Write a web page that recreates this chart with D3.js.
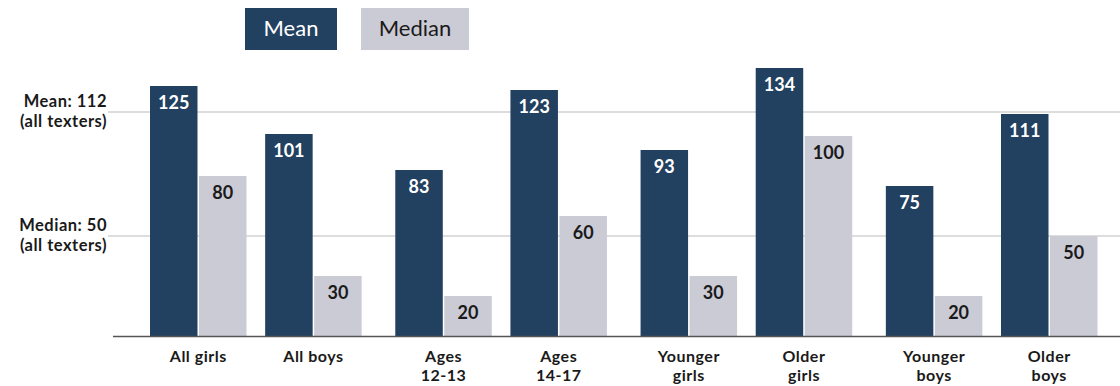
<!DOCTYPE html>
<html>
<head>
<meta charset="utf-8">
<script src="https://cdn.jsdelivr.net/npm/d3@7"></script>
<style>
  html, body { margin: 0; padding: 0; background: #fff; }
  svg { display: block; font-family: Lato, "Open Sans", sans-serif; }
</style>
</head>
<body>
<svg id="chart" width="1120" height="386"></svg>
<script>
// ---- data ----
const categories = ["All girls", "All boys", "Ages 12-13", "Ages 14-17",
                    "Younger girls", "Older girls", "Younger boys", "Older boys"];
const categoryLines = [["All girls"], ["All boys"], ["Ages", "12-13"], ["Ages", "14-17"],
                       ["Younger", "girls"], ["Older", "girls"], ["Younger", "boys"], ["Older", "boys"]];
const meanValues   = [125, 101, 83, 123, 93, 134, 75, 111];
const medianValues = [80, 30, 20, 60, 30, 100, 20, 50];
const seriesNames  = ["Mean", "Median"];
const refValues    = [112, 50];
const refLabels    = [["Mean: 112", "(all texters)"], ["Median: 50", "(all texters)"]];

// ---- layout ----
const colors = { Mean: "#22405f", Median: "#cbcbd6" };
const textColors = { Mean: "#ffffff", Median: "#1a1a1a" };
const svg = d3.select("#chart");

const y = d3.scaleLinear().domain([0, 168]).range([336, 0]);
// groups come in pairs with a slightly wider gap between pairs
const slot = i => i + Math.floor(i / 2) * 0.13;
const x = d3.scaleLinear().domain([0, slot(7)]).range([150, 1001]);
const barW = 47.5, innerGap = 1.5;

// reference lines
svg.selectAll("line.ref").data(refValues).join("line")
  .attr("class", "ref")
  .attr("x1", 108).attr("x2", 1120)
  .attr("y1", d => y(d)).attr("y2", d => y(d))
  .attr("stroke", "#d2d2d2").attr("stroke-width", 1.5);

// left labels for reference lines
const refFont = 16.5;
refValues.forEach((v, i) => {
  const t = svg.append("text")
    .attr("text-anchor", "end")
    .attr("font-size", refFont).attr("font-weight", 700).attr("fill", "#1a1a1a")
    .attr("letter-spacing", "0.5");
  refLabels[i].forEach((line, j) => {
    t.append("tspan").attr("x", 107).attr("y", y(v) - 5 + j * refFont * 1.21).text(line);
  });
});

// bars
const series = [meanValues, medianValues];
series.forEach((vals, s) => {
  const name = seriesNames[s];
  const bx = i => x(slot(i)) + s * (barW + innerGap);
  svg.selectAll("rect.s" + s).data(vals).join("rect")
    .attr("class", "s" + s)
    .attr("x", (d, i) => bx(i))
    .attr("width", barW)
    .attr("y", d => y(d))
    .attr("height", d => y(0) - y(d))
    .attr("fill", colors[name]);
  svg.selectAll("text.v" + s).data(vals).join("text")
    .attr("class", "v" + s)
    .attr("x", (d, i) => bx(i) + barW / 2)
    .attr("y", d => y(d) + 23)
    .attr("text-anchor", "middle")
    .attr("font-size", 18).attr("font-weight", 700)
    .attr("fill", textColors[name])
    .text(d => d);
});

// x axis baseline
svg.append("line")
  .attr("x1", 113).attr("x2", 1120)
  .attr("y1", y(0) + 0.5).attr("y2", y(0) + 0.5)
  .attr("stroke", "#555").attr("stroke-width", 1.6);

// category labels
const catFont = 16;
categories.forEach((c, i) => {
  const cx = x(slot(i)) + barW + innerGap / 2;
  const t = svg.append("text")
    .attr("text-anchor", "middle")
    .attr("font-size", catFont).attr("font-weight", 700).attr("fill", "#1a1a1a")
    .attr("letter-spacing", "0.5");
  categoryLines[i].forEach((line, j) => {
    t.append("tspan").attr("x", cx).attr("y", 362 + j * catFont * 1.21).text(line);
  });
});

// legend
const legend = [
  { name: "Mean", x: 245, w: 92 },
  { name: "Median", x: 361, w: 108 }
];
legend.forEach(l => {
  svg.append("rect").attr("x", l.x).attr("y", 8).attr("width", l.w).attr("height", 42)
    .attr("fill", colors[l.name]);
  svg.append("text").attr("x", l.x + l.w / 2).attr("y", 36)
    .attr("text-anchor", "middle").attr("font-size", 22)
    .attr("fill", textColors[l.name]).text(l.name);
});
</script>
</body>
</html>
